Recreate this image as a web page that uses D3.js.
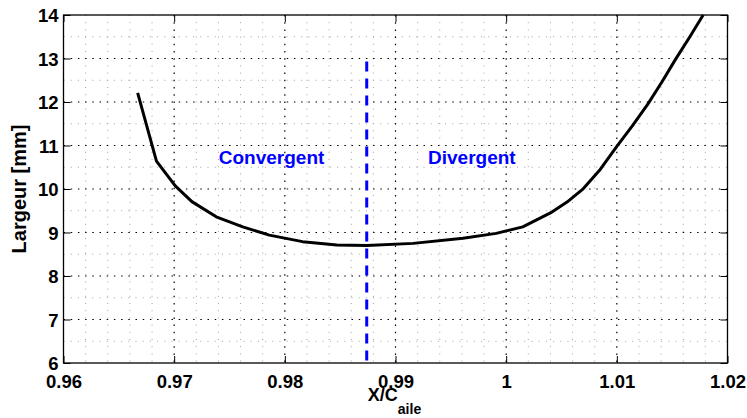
<!DOCTYPE html>
<html><head><meta charset="utf-8">
<script src="https://cdn.jsdelivr.net/npm/d3@7"></script>
<style>
html,body{margin:0;padding:0;background:#fff;}
svg{display:block;font-family:"Liberation Sans",Arial,Helvetica,sans-serif;}
</style></head>
<body>
<svg id="chart" width="747" height="418"></svg>
<script>
// Data
const xPos = [0.9667,0.9684,0.9701,0.9716,0.9738,0.9762,0.9786,0.9816,0.9847,0.9874,0.9916,0.9961,0.9991,1.0015,1.0040,1.0055,1.0069,1.0085,1.0100,1.0114,1.0128,1.0141,1.0153,1.0166,1.0178];
const largeur = [12.21,10.64,10.07,9.71,9.36,9.13,8.94,8.79,8.71,8.70,8.75,8.87,8.98,9.13,9.45,9.70,9.99,10.45,10.98,11.45,11.95,12.47,12.98,13.50,14.00];
const xTicks = [0.96,0.97,0.98,0.99,1.00,1.01,1.02];
const xTickLabels = ["0.96","0.97","0.98","0.99","1","1.01","1.02"];
const yTicks = [6,7,8,9,10,11,12,13,14];
const xMinorGrid = d3.range(0.962,1.02,0.002).filter(v => Math.abs(v*100 - Math.round(v*100)) > 1e-6);
const yMinorGrid = [6.5,7.5,8.5,9.5,10.5,11.5,12.5,13.5];
const separationX = 0.9874;
const separationY = [6,12.93];
const regionLabels = ["Convergent","Divergent"];
const regionX = [0.9788,0.9969];
const regionY = 10.57;

const svg = d3.select("#chart");
const L = 63.5, R = 727.5, T = 15, B = 363;
const x = d3.scaleLinear().domain([0.96,1.02]).range([L,R]);
const y = d3.scaleLinear().domain([6,14]).range([B,T]);

// minor grid
const g = svg.append("g");
g.selectAll(".vmin").data(xMinorGrid).enter().append("line")
  .attr("x1", d=>x(d)).attr("x2", d=>x(d)).attr("y1", T).attr("y2", B)
  .attr("stroke", "#a0a0a0").attr("stroke-width", 1).attr("stroke-dasharray", "1,6.2");
g.selectAll(".hmin").data(yMinorGrid).enter().append("line")
  .attr("y1", d=>y(d)).attr("y2", d=>y(d)).attr("x1", L).attr("x2", R)
  .attr("stroke", "#a0a0a0").attr("stroke-width", 1).attr("stroke-dasharray", "1,6.2");
// major grid
g.selectAll(".vmaj").data(xTicks.slice(1,-1)).enter().append("line")
  .attr("x1", d=>x(d)).attr("x2", d=>x(d)).attr("y1", T).attr("y2", B)
  .attr("stroke", "#000").attr("stroke-width", 1.2).attr("stroke-dasharray", "1.5,5.7");
g.selectAll(".hmaj").data(yTicks.slice(1,-1)).enter().append("line")
  .attr("y1", d=>y(d)).attr("y2", d=>y(d)).attr("x1", L).attr("x2", R)
  .attr("stroke", "#000").attr("stroke-width", 1.2).attr("stroke-dasharray", "1.5,5.7");

// axes (ticks inward)
const fontSize = "18.5px";
const xAxis = svg.append("g").attr("transform", `translate(0,${B})`)
  .call(d3.axisBottom(x).tickValues(xTicks).tickFormat((d,i)=>xTickLabels[i]).tickSizeInner(-7).tickSizeOuter(0).tickPadding(12));
const xAxisTop = svg.append("g").attr("transform", `translate(0,${T})`)
  .call(d3.axisTop(x).tickValues(xTicks).tickFormat("").tickSizeInner(-7).tickSizeOuter(0));
const yAxis = svg.append("g").attr("transform", `translate(${L},0)`)
  .call(d3.axisLeft(y).tickValues(yTicks).tickFormat(d3.format("d")).tickSizeInner(-7).tickSizeOuter(0).tickPadding(6));
const yAxisR = svg.append("g").attr("transform", `translate(${R},0)`)
  .call(d3.axisRight(y).tickValues(yTicks).tickFormat("").tickSizeInner(-7).tickSizeOuter(0));
[xAxis,xAxisTop,yAxis,yAxisR].forEach(a=>{
  a.select(".domain").remove();
  a.selectAll("line").attr("stroke","#000");
  a.selectAll("text").attr("font-size",fontSize).attr("font-weight","bold").attr("fill","#000")
   .attr("font-family","'Liberation Sans',Arial,sans-serif");
});
xAxis.selectAll("text").attr("dy","0.71em").attr("y", 12);
yAxis.selectAll("text").attr("dy","0.36em").attr("x",-5);

svg.append("rect").attr("x",L).attr("y",T).attr("width",R-L).attr("height",B-T)
  .attr("fill","none").attr("stroke","#000").attr("stroke-width",1.3);

// separation line
svg.append("line")
  .attr("x1", x(separationX)).attr("x2", x(separationX))
  .attr("y1", y(separationY[1])).attr("y2", y(separationY[0]))
  .attr("stroke","#0000ff").attr("stroke-width",3).attr("stroke-dasharray","10,7");

// curve
const pts = xPos.map((v,i)=>[v,largeur[i]]);
svg.append("path").datum(pts)
  .attr("d", d3.line().x(d=>x(d[0])).y(d=>y(d[1])).curve(d3.curveLinear))
  .attr("fill","none").attr("stroke","#000").attr("stroke-width",3).attr("stroke-linejoin","round");

// region labels
svg.selectAll(".reg").data(regionLabels).enter().append("text")
  .attr("x",(d,i)=>x(regionX[i])).attr("y",y(regionY))
  .attr("text-anchor","middle").attr("font-size","19px").attr("font-weight","bold")
  .attr("fill","#0000ff").text(d=>d);

// axis labels
const xl = svg.append("text").attr("x",(L+R)/2 - 1).attr("y",401)
  .attr("text-anchor","middle").attr("font-size","18px").attr("font-weight","bold").attr("fill","#000");
xl.append("tspan").text("X/C");
xl.append("tspan").attr("font-size","14px").attr("dy",13).text("aile");

svg.append("text").attr("transform",`translate(26,${(T+B)/2}) rotate(-90)`)
  .attr("text-anchor","middle").attr("font-size","20px").attr("font-weight","bold").attr("fill","#000")
  .text("Largeur [mm]");
</script>
</body></html>
